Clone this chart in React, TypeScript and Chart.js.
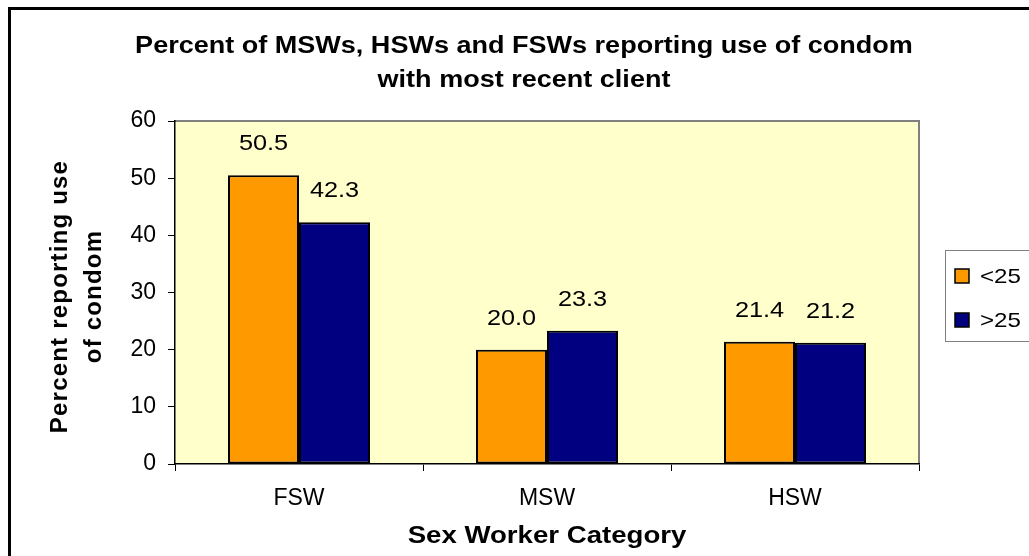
import { useEffect, useRef } from "react";
import { Chart, registerables } from "chart.js";

Chart.register(...registerables);

const categories = ["FSW", "MSW", "HSW"];
const seriesNames = ["<25", ">25"];
const under25 = [50.5, 20.0, 21.4];
const over25 = [42.3, 23.3, 21.2];
const seriesColors = ["#FF9900", "#000080"];
const yMin = 0;
const yMax = 60;
const yStep = 10;
const titleLines = [
  "Percent of MSWs, HSWs and FSWs reporting use of condom",
  "with most recent client",
];
const yTitleLines = ["Percent reporting use", "of condom"];
const xTitle = "Sex Worker Category";

const FONT = "'Liberation Sans', Arial, Helvetica, sans-serif";
const SX = 1.15;

function sText(ctx: any, text: string, x: number, y: number, sx: number) {
  ctx.save();
  ctx.translate(x, y);
  ctx.scale(sx, 1);
  ctx.fillText(text, 0, 0);
  ctx.restore();
}

const decor = {
  id: "decor",
  beforeDraw(chart: any) {
    const { ctx, chartArea: a } = chart;
    ctx.save();
    ctx.fillStyle = "#ffffff";
    ctx.fillRect(0, 0, chart.width, chart.height);
    ctx.fillStyle = "#FFFFCC";
    ctx.fillRect(a.left, a.top, a.right - a.left, a.bottom - a.top);
    ctx.strokeStyle = "#808080";
    ctx.lineWidth = 2;
    ctx.beginPath();
    ctx.moveTo(a.left, a.top);
    ctx.lineTo(a.right, a.top);
    ctx.lineTo(a.right, a.bottom);
    ctx.stroke();
    ctx.strokeStyle = "#000000";
    ctx.lineWidth = 3;
    ctx.strokeRect(9.5, 8.5, chart.width + 50, chart.height + 50);
    ctx.restore();
  },
  afterDatasetsDraw(chart: any) {
    const { ctx } = chart;
    ctx.save();
    ctx.fillStyle = "#000";
    ctx.font = `22px ${FONT}`;
    ctx.textAlign = "center";
    ctx.textBaseline = "middle";
    chart.data.datasets.forEach((ds: any, di: number) => {
      const meta = chart.getDatasetMeta(di);
      meta.data.forEach((bar: any, i: number) => {
        sText(ctx, Number(ds.data[i]).toFixed(1), bar.x, bar.y - 31, SX);
      });
    });
    ctx.restore();
  },
  afterDraw(chart: any) {
    const { ctx, chartArea: a } = chart;
    ctx.save();
    ctx.fillStyle = "#000";
    ctx.textAlign = "center";
    ctx.textBaseline = "middle";
    // main title
    ctx.font = `bold 23.5px ${FONT}`;
    titleLines.forEach((t, i) => sText(ctx, t, 524, 47 + i * 34, SX));
    // x title
    ctx.font = `bold 24px ${FONT}`;
    sText(ctx, xTitle, (a.left + a.right) / 2, 536, SX);
    // y title
    ctx.save();
    ctx.font = `bold 24px ${FONT}`;
    (ctx as any).letterSpacing = "1.2px";
    ctx.translate(0, (a.top + a.bottom) / 2 + 4);
    ctx.rotate(-Math.PI / 2);
    yTitleLines.forEach((t, i) => ctx.fillText(t, 0, 60 + i * 34));
    ctx.restore();
    // legend
    ctx.strokeStyle = "#808080";
    ctx.lineWidth = 1;
    ctx.strokeRect(945.5, 250.5, 200, 91);
    ctx.font = `21px ${FONT}`;
    ctx.textAlign = "left";
    chart.data.datasets.forEach((ds: any, i: number) => {
      const cy = 276 + i * 44;
      ctx.fillStyle = ds.backgroundColor;
      ctx.fillRect(955, cy - 7, 14, 14);
      ctx.strokeStyle = "#000";
      ctx.lineWidth = 1.5;
      ctx.strokeRect(955, cy - 7, 14, 14);
      ctx.fillStyle = "#000";
      sText(ctx, ds.label, 980, cy + 1, SX);
    });
    ctx.restore();
  },
};

export default function App() {
  const ref = useRef<HTMLCanvasElement>(null);
  useEffect(() => {
    const chart = new Chart(ref.current as HTMLCanvasElement, {
      type: "bar",
      data: {
        labels: categories,
        datasets: [
          {
            label: seriesNames[0],
            data: under25,
            backgroundColor: seriesColors[0],
            borderColor: "#000",
            borderWidth: 2,
            borderSkipped: false,
            categoryPercentage: 0.5726,
            barPercentage: 1,
          },
          {
            label: seriesNames[1],
            data: over25,
            backgroundColor: seriesColors[1],
            borderColor: "#000",
            borderWidth: 2,
            borderSkipped: false,
            categoryPercentage: 0.5726,
            barPercentage: 1,
          },
        ],
      },
      options: {
        responsive: false,
        animation: false,
        devicePixelRatio: 1,
        layout: { padding: { left: 0, right: 110, top: 121, bottom: 0 } },
        plugins: {
          legend: { display: false },
          title: { display: false },
          tooltip: { enabled: false },
        },
        scales: {
          x: {
            afterFit(scale: any) {
              scale.height = 92;
            },
            grid: {
              offset: true,
              drawOnChartArea: false,
              drawTicks: true,
              tickLength: 7,
              color: "#000",
            },
            border: { display: true, color: "#000", width: 1.5 },
            ticks: {
              color: "#000",
              font: { family: FONT, size: 23 },
              padding: 14,
            },
          },
          y: {
            min: yMin,
            max: yMax,
            afterFit(scale: any) {
              scale.width = 175;
            },
            grid: {
              drawOnChartArea: false,
              drawTicks: true,
              tickLength: 7,
              color: "#000",
            },
            border: { display: true, color: "#000", width: 1.5 },
            ticks: {
              stepSize: yStep,
              color: "#000",
              font: { family: FONT, size: 23 },
              padding: 12,
            },
          },
        },
      },
      plugins: [decor],
    });
    return () => chart.destroy();
  }, []);
  return (
    <div
      style={{
        position: "fixed",
        left: 0,
        top: 0,
        width: 1029,
        height: 556,
        overflow: "hidden",
        background: "#fff",
      }}
    >
      <canvas
        ref={ref}
        width={1029}
        height={556}
        style={{ display: "block", width: 1029, height: 556 }}
      />
    </div>
  );
}
